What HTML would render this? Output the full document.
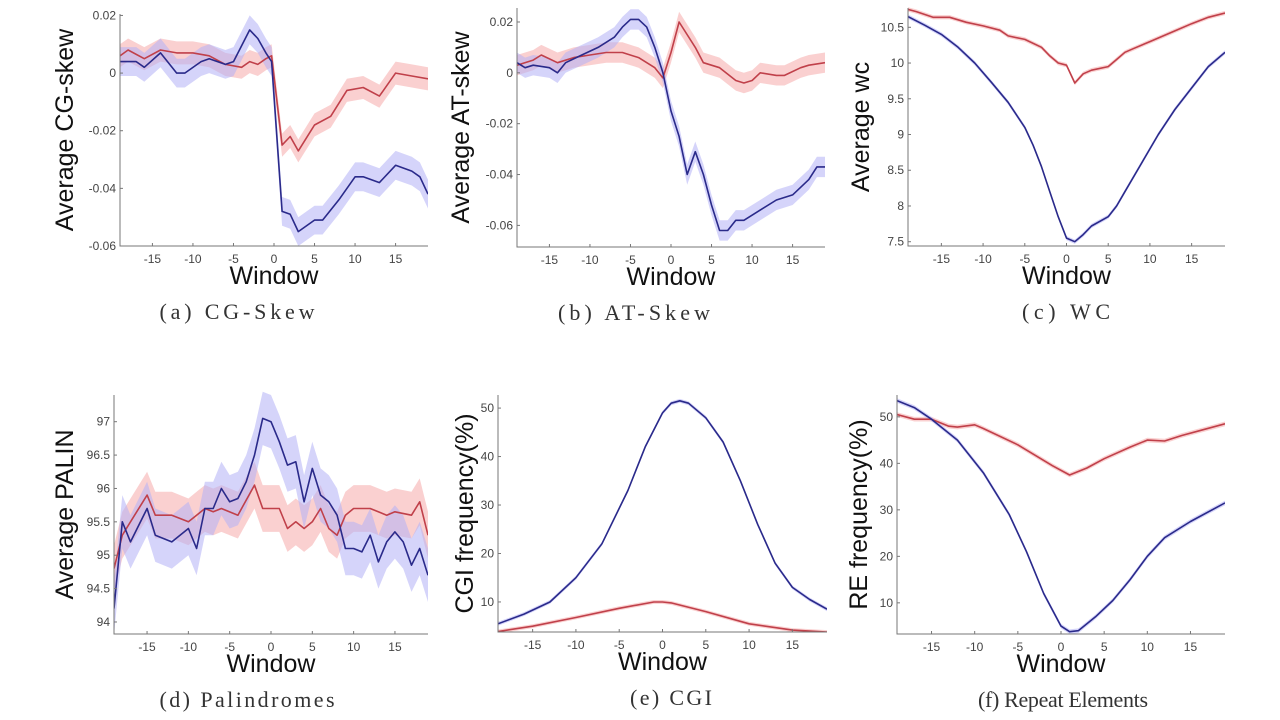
<!DOCTYPE html>
<html><head><meta charset="utf-8"><style>
html,body{margin:0;padding:0;background:#fff;width:1280px;height:720px;overflow:hidden}
svg{display:block}
</style></head><body>
<svg id="s" width="1280" height="720" xmlns="http://www.w3.org/2000/svg"></svg>
<script>
const P=[
{L:120,R:428,T:14,B:246,ymin:-0.06,ymax:0.0205,yt:[[0.02,'0.02'],[0,'0'],[-0.02,'-0.02'],[-0.04,'-0.04'],[-0.06,'-0.06']],
 lab:'Average CG-skew',cap:'(a) CG-Skew',cx2:237,cw:155,ylx:64,bw:[0.004,0.005],
 red:[[-19,.006],[-18,.008],[-16,.005],[-14,.008],[-12,.007],[-10,.007],[-8,.006],[-6,.003],[-4,.002],[-3,.004],[-2,.003],[-1,.005],[-0.3,.006],[1,-.025],[2,-.022],[3,-.027],[5,-.018],[7,-.015],[9,-.006],[11,-.005],[13,-.008],[15,0],[17,-.001],[19,-.002]],
 blue:[[-19,.004],[-17,.004],[-16,.002],[-14,.007],[-12,0],[-11,0],[-9,.004],[-8,.005],[-6,.003],[-5,.004],[-3,.015],[-2,.012],[-1,.007],[-0.3,.004],[1,-.048],[2,-.049],[3,-.055],[5,-.051],[6,-.051],[8,-.044],[10,-.036],[11,-.036],[13,-.038],[15,-.032],[17,-.034],[18,-.036],[19,-.042]]},
{L:517,R:825,T:8,B:247,ymin:-0.0685,ymax:0.0255,yt:[[0.02,'0.02'],[0,'0'],[-0.02,'-0.02'],[-0.04,'-0.04'],[-0.06,'-0.06']],
 lab:'Average AT-skew',cap:'(b) AT-Skew',cx2:634,cw:152,ylx:460,bw:[0.004,0.004],
 red:[[-19,.003],[-17,.005],[-16,.007],[-14,.004],[-12,.006],[-10,.007],[-8,.008],[-6,.008],[-4,.006],[-2,.002],[-1,-.002],[0,.008],[1,.02],[3,.01],[4,.004],[6,.002],[8,-.003],[9,-.004],[10,-.003],[11,0],[13,-.001],[14,-.001],[16,.002],[17,.003],[19,.004]],
 blue:[[-19,.004],[-18,.002],[-17,.003],[-15,.002],[-14,0],[-13,.004],[-11,.007],[-9,.010],[-7,.014],[-6,.018],[-5,.021],[-4,.021],[-3,.018],[-2,.010],[-1,0],[0,-.015],[1,-.025],[2,-.04],[3,-.031],[4,-.04],[5,-.052],[6,-.062],[7,-.062],[8,-.058],[9,-.058],[11,-.054],[13,-.05],[15,-.048],[17,-.042],[18,-.037],[19,-.037]]},
{L:908,R:1225,T:8,B:246,ymin:7.44,ymax:10.77,yt:[[10.5,'10.5'],[10,'10'],[9.5,'9.5'],[9,'9'],[8.5,'8.5'],[8,'8'],[7.5,'7.5']],
 lab:'Average wc',cap:'(c) WC',cx2:1066,cw:88,ylx:860,bw:[0.03,0.03],
 red:[[-19,10.75],[-18,10.72],[-16,10.64],[-14,10.64],[-12,10.57],[-10,10.52],[-8,10.46],[-7,10.38],[-5,10.33],[-3,10.22],[-2,10.1],[-1,10.0],[0,9.97],[1,9.72],[2,9.85],[3,9.9],[5,9.95],[6,10.05],[7,10.15],[8,10.2],[10,10.3],[11,10.35],[13,10.45],[15,10.55],[17,10.64],[19,10.7]],
 blue:[[-19,10.65],[-17,10.53],[-15,10.4],[-13,10.22],[-11,10.0],[-9,9.73],[-7,9.45],[-5,9.1],[-4,8.85],[-3,8.55],[-2,8.2],[-1,7.85],[0,7.55],[1,7.5],[2,7.6],[3,7.72],[5,7.85],[6,8.0],[7,8.2],[9,8.6],[11,9.0],[13,9.35],[15,9.65],[17,9.95],[19,10.15]]},
{L:114,R:428,T:395,B:634,ymin:93.82,ymax:97.4,yt:[[97,'97'],[96.5,'96.5'],[96,'96'],[95.5,'95.5'],[95,'95'],[94.5,'94.5'],[94,'94']],
 lab:'Average PALIN',cap:'(d) Palindromes',cx2:247,cw:175,ylx:64,bw:[0.35,0.4],
 red:[[-19,94.8],[-18,95.3],[-17,95.5],[-15,95.9],[-14,95.6],[-12,95.6],[-10,95.5],[-9,95.6],[-8,95.7],[-7,95.65],[-6,95.7],[-4,95.6],[-2,96.05],[-1,95.7],[0,95.7],[1,95.7],[2,95.4],[3,95.5],[4,95.4],[5,95.5],[6,95.7],[7,95.4],[8,95.3],[9,95.6],[10,95.7],[12,95.7],[14,95.6],[15,95.65],[17,95.6],[18,95.8],[19,95.3]],
 blue:[[-19,94.2],[-18,95.5],[-17,95.2],[-15,95.7],[-14,95.3],[-12,95.2],[-10,95.4],[-9,95.1],[-8,95.7],[-7,95.7],[-6,96.0],[-5,95.8],[-4,95.85],[-3,96.1],[-2,96.5],[-1,97.05],[0,97.0],[1,96.7],[2,96.35],[3,96.4],[4,95.8],[5,96.3],[6,95.9],[7,95.8],[8,95.6],[9,95.1],[10,95.1],[11,95.05],[12,95.3],[13,94.9],[14,95.2],[15,95.35],[16,95.2],[17,94.85],[18,95.1],[19,94.7]]},
{L:498,R:827,T:395,B:632,ymin:3.8,ymax:52.7,yt:[[50,'50'],[40,'40'],[30,'30'],[20,'20'],[10,'10']],
 lab:'CGI frequency(%)',cap:'(e) CGI',cx2:671,cw:82,ylx:464,bw:[0.4,0.4],
 blue:[[-19,5.5],[-16,7.5],[-13,10],[-10,15],[-7,22],[-4,33],[-2,42],[0,49],[1,51],[2,51.5],[3,51],[5,48],[7,43],[9,35],[11,26],[13,18],[15,13],[17,10.5],[19,8.5]],
 red:[[-19,3.9],[-15,5],[-10,6.8],[-5,8.7],[-1,10],[0,10],[1,9.8],[5,8],[10,5.5],[15,4.2],[19,3.8]]},
{L:897,R:1225,T:395,B:634,ymin:3.3,ymax:54.7,yt:[[50,'50'],[40,'40'],[30,'30'],[20,'20'],[10,'10']],
 lab:'RE frequency(%)',cap:'(f) Repeat Elements',cx2:1063,cw:170,ylx:858,bw:[0.5,0.5],
 red:[[-19,50.5],[-17,49.5],[-15,49.5],[-13,48],[-12,47.8],[-10,48.3],[-9,47.5],[-5,44],[-1,39.5],[1,37.5],[3,39],[5,41],[8,43.5],[10,45],[12,44.8],[14,46],[16,47],[19,48.5]],
 blue:[[-19,53.5],[-17,52],[-15,49.5],[-12,45],[-9,38],[-6,29],[-4,21],[-2,12],[0,5],[1,3.8],[2,4],[4,7],[6,10.5],[8,15],[10,20],[12,24],[15,27.5],[19,31.5]]}
];
let h='';
for(const p of P){
 const X=x=>p.L+(x+19)/38*(p.R-p.L), Y=v=>p.B-(v-p.ymin)/(p.ymax-p.ymin)*(p.B-p.T);
 const band=(d,w,c)=>{let a=d.map(q=>X(q[0]).toFixed(1)+','+Y(q[1]+w).toFixed(1));let b=d.slice().reverse().map(q=>X(q[0]).toFixed(1)+','+Y(q[1]-w).toFixed(1));return `<polygon points="${a.concat(b).join(' ')}" fill="${c}" opacity="0.55"/>`;};
 const line=(d,c)=>`<polyline points="${d.map(q=>X(q[0]).toFixed(1)+','+Y(q[1]).toFixed(1)).join(' ')}" fill="none" stroke="${c}" stroke-width="1.6" stroke-linejoin="round"/>`;
 h+=`<svg x="0" y="0" overflow="hidden"><clipPath id="c${p.L}${p.T}"><rect x="${p.L}" y="${p.T-8}" width="${p.R-p.L}" height="${p.B-p.T+8}"/></clipPath><g clip-path="url(#c${p.L}${p.T})">`;
 h+=band(p.red,p.bw[0],'#f5a9a9')+band(p.blue,p.bw[1],'#b3b0f5')+line(p.red,'#c0404a')+line(p.blue,'#2a2a8a');
 h+='</g></svg>';
 h+=`<path d="M${p.L},${p.T}V${p.B}H${p.R}" fill="none" stroke="#777" stroke-width="1"/>`;
 for(const t of [-15,-10,-5,0,5,10,15]){const x=X(t);h+=`<line x1="${x}" y1="${p.B}" x2="${x}" y2="${p.B-3}" stroke="#777"/><text x="${x}" y="${p.B+17}" font-size="12" fill="#444" text-anchor="middle" font-family="Liberation Sans,sans-serif">${t}</text>`;}
 for(const t of p.yt){const y=Y(t[0]);h+=`<line x1="${p.L}" y1="${y}" x2="${p.L+3}" y2="${y}" stroke="#777"/><text x="${p.L-4}" y="${y+4}" font-size="12" fill="#444" text-anchor="end" font-family="Liberation Sans,sans-serif">${t[1]}</text>`;}
 const cx=(p.L+p.R)/2;
 h+=`<text x="${cx}" y="${p.B+38}" font-size="25" fill="#111" text-anchor="middle" font-family="Liberation Sans,sans-serif">Window</text>`;
 h+=`<text x="${p.cx2-p.cw/2}" y="${p.B+73}" font-size="22" fill="#333" textLength="${p.cw}" lengthAdjust="spacing" font-family="Liberation Serif,serif">${p.cap}</text>`;
 const cy=(p.T+p.B)/2;
 h+=`<text transform="translate(${p.ylx+9},${cy}) rotate(-90)" font-size="25" fill="#111" text-anchor="middle" font-family="Liberation Sans,sans-serif">${p.lab}</text>`;
}
document.getElementById('s').innerHTML=h;
</script>
</body></html>
